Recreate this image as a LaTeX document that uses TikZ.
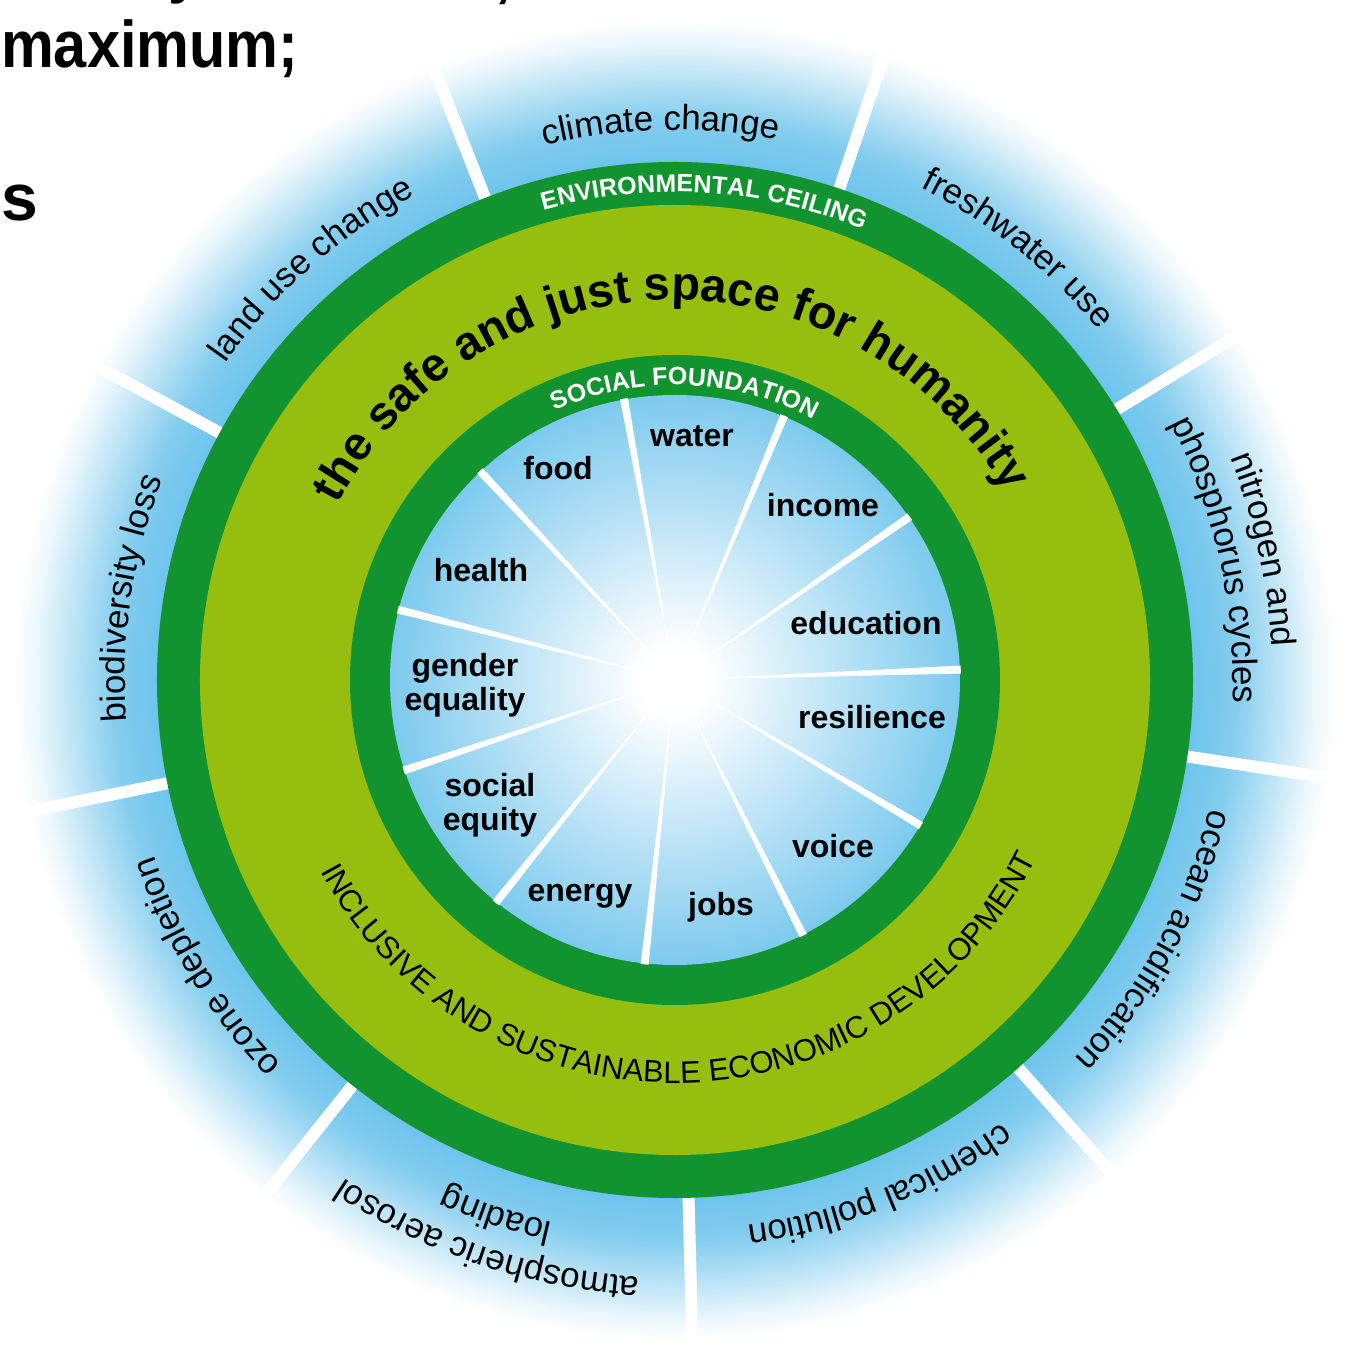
\documentclass[tikz,border=0pt]{standalone}
\usepackage{fontspec}
\setmainfont{Liberation Sans}
\usetikzlibrary{decorations.text}

\definecolor{ringgreen}{RGB}{17,147,48}
\definecolor{spacegreen}{RGB}{150,190,14}
\definecolor{limitblue}{RGB}{110,196,236}

\pgfdeclareradialshading{outerglow}{\pgfpoint{0bp}{0bp}}{%
  color(0bp)=(limitblue); color(18.5bp)=(limitblue);
  color(20bp)=(limitblue!85!white); color(21.4bp)=(limitblue!50!white);
  color(22.9bp)=(limitblue!12!white); color(23.6bp)=(white); color(50bp)=(white)}
\pgfdeclareradialshading{innerglow}{\pgfpoint{0bp}{0bp}}{%
  color(0bp)=(white); color(3bp)=(white); color(14bp)=(limitblue!45!white);
  color(25bp)=(limitblue!90!white); color(50bp)=(limitblue!90!white)}

\newcommand\limitfont{\fontsize{35}{40}\selectfont}
\newcommand\needfont{\bfseries\fontsize{32}{34}\selectfont}
\newcommand\ringfont{\bfseries\fontsize{25}{28}\selectfont}
\newcommand\spacefont{\bfseries\fontsize{47}{50}\selectfont}
\newcommand\economyfont{\fontsize{31}{36}\selectfont}
\newcommand\headfont{\bfseries\fontsize{66}{72}\selectfont}

\tikzset{
  limit text/.style={decorate, decoration={text along path, text align=center, text={|\limitfont|#1}}},
  ring text/.style={decorate, decoration={text along path, text align=center, text color=white, text={|\ringfont|#1}}},
  space text/.style={decorate, decoration={text along path, text align=center, text={|\spacefont|#1}}},
  economy text/.style={decorate, decoration={text along path, text align=center, text={|\economyfont|#1}}},
  need label/.style={font=\needfont, align=center, inner sep=0pt},
  gap line/.style={white, line width=12pt},
  headline/.style={font=\headfont, inner sep=0pt, anchor=base west}
}

\begin{document}
\begin{tikzpicture}[x=1pt, y=1pt]

\useasboundingbox (-675,-679) rectangle (678,680);
\clip (-675,-679) rectangle (678,680);

% planetary boundaries
\shade[shading=outerglow] (0,0) circle (700);

\foreach \a in {31.5,71.5,...,351.5}
  \draw[gap line] (\a:510) -- (\a:720);

\fill[ringgreen] (0,0) circle (518);
\fill[spacegreen] (0,0) circle (475);
\fill[ringgreen] (0,0) circle (325);
\shade[shading=innerglow] (0,0) circle (285);

% social foundation
\foreach \i [evaluate=\i as \a using 2.1+32.727*\i] in {0,...,10}
  \fill[white] (0,0) -- (\a-0.8:286) -- (\a+0.8:286) -- cycle;

\path[limit text={climate change}] (113.5:550) arc[start angle=113.5, end angle=69.5, radius=550];
\path[limit text={freshwater use}] (73.5:550) arc[start angle=73.5, end angle=29.5, radius=550];
\path[limit text={nitrogen and}] (34.5:598) arc[start angle=34.5, end angle=-9.5, radius=598];
\path[limit text={phosphorus cycles}] (34.5:558) arc[start angle=34.5, end angle=-9.5, radius=558];
\path[limit text={ocean acidification}] (-6.5:550) arc[start angle=-6.5, end angle=-50.5, radius=550];
\path[limit text={chemical pollution}] (-46:550) arc[start angle=-46, end angle=-90, radius=550];
\path[limit text={atmospheric aerosol}] (-86.5:598) arc[start angle=-86.5, end angle=-130.5, radius=598];
\path[limit text={loading}] (-86.5:556) arc[start angle=-86.5, end angle=-130.5, radius=556];
\path[limit text={ozone depletion}] (-126.5:550) arc[start angle=-126.5, end angle=-170.5, radius=550];
\path[limit text={biodiversity loss}] (193.5:550) arc[start angle=193.5, end angle=149.5, radius=550];
\path[limit text={land use change}] (153.5:550) arc[start angle=153.5, end angle=109.5, radius=550];

\path[ring text={ENVIRONMENTAL CEILING}] (126.5:488) arc[start angle=126.5, end angle=46.5, radius=488];
\path[ring text={SOCIAL FOUNDATION}] (128:295) arc[start angle=128, end angle=48, radius=295];

\path[space text={the safe and just space for humanity}] (171:380) arc[start angle=171, end angle=11, radius=380];
\path[economy text={INCLUSIVE AND SUSTAINABLE ECONOMIC DEVELOPMENT}] (196:403) arc[start angle=196, end angle=346, radius=403];

\node[need label] (food) at (-117,212) {food};
\node[need label] (water) at (17,244) {water};
\node[need label] (income) at (148,175) {income};
\node[need label] (health) at (-194,110) {health};
\node[need label] (education) at (191,57) {education};
\node[need label] (gender) at (-210,-5) {gender\\equality};
\node[need label] (resilience) at (197,-37) {resilience};
\node[need label] (socialequity) at (-185,-125) {social\\equity};
\node[need label] (voice) at (158,-166) {voice};
\node[need label] (energy) at (-95,-216) {energy};
\node[need label] (jobs) at (46,-227) {jobs};

% heading cut off by the slide
\node[headline] (cutword) at (-507,689) {\scalebox{.9}[1]{y}};
\node[headline] (cutcomma) at (-180,685) {\scalebox{.9}[1]{,}};
\node[headline] (maximum) at (-674,612) {\scalebox{.9}[1]{maximum;}};
\node[headline] (plural) at (-674,459) {s};

\end{tikzpicture}
\end{document}
